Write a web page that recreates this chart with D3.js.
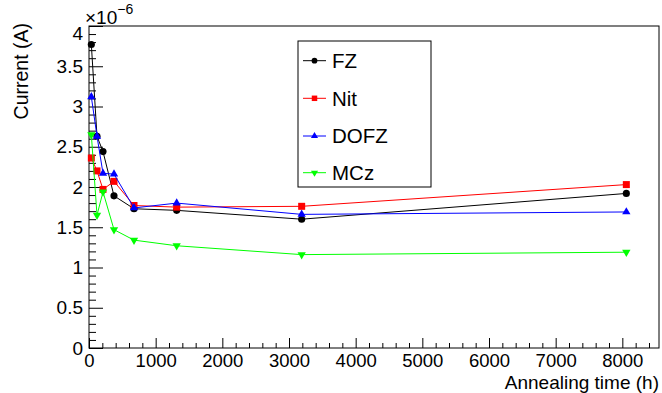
<!DOCTYPE html>
<html>
<head>
<meta charset="utf-8">
<script src="https://cdn.jsdelivr.net/npm/d3@7"></script>
<style>
  html, body { margin: 0; padding: 0; background: #fff; }
  svg { display: block; }
  text { font-family: "Liberation Sans", Arial, Helvetica, sans-serif; }
</style>
</head>
<body>
<svg id="chart" width="662" height="393"></svg>
<script>
// Annealing time (h)
const times = [35, 120, 210, 375, 675, 1315, 3190, 8060];
// Current in units of 1e-6 A
const seriesNames = ["FZ", "Nit", "DOFZ", "MCz"];
const fzValues   = [3.77, 2.63, 2.44, 1.89, 1.73, 1.71, 1.60, 1.92];
const nitValues  = [2.36, 2.20, 1.97, 2.07, 1.77, 1.75, 1.76, 2.03];
const dofzValues = [3.12, 2.63, 2.17, 2.16, 1.74, 1.80, 1.66, 1.69];
const mczValues  = [2.65, 1.65, 1.94, 1.47, 1.34, 1.27, 1.16, 1.19];
const xTickValues = [0, 1000, 2000, 3000, 4000, 5000, 6000, 7000, 8000];
const yTickValues = [0, 0.5, 1, 1.5, 2, 2.5, 3, 3.5, 4];
const xTitle = "Annealing time (h)";
const yTitle = "Current (A)";

const colors = ["#000000", "#ff0000", "#0000ff", "#00ff00"];
const symbols = [d3.symbolCircle, d3.symbolSquare, d3.symbolTriangle, d3.symbolTriangle];
const rotations = [0, 0, 0, 180];
const dataSizes = [40, 49, 30, 30];
const legendSizes = [26, 30, 22, 22];

const allValues = [fzValues, nitValues, dofzValues, mczValues];
const series = seriesNames.map((name, i) => ({
  name, color: colors[i], symbol: symbols[i], rot: rotations[i],
  size: dataSizes[i], lsize: legendSizes[i],
  points: times.map((t, j) => ({ t, v: allValues[i][j] }))
}));

const L = 89, R = 659, T = 26, B = 348;
const fs = 18.5;

const svg = d3.select("#chart");
const x = d3.scaleLinear().domain([0, 8550]).range([L, R]);
const y = d3.scaleLinear().domain([0, 4]).range([B, T]);

// minor ticks
const xMinor = d3.range(0, 8550, 200).filter(v => v % 1000 !== 0);
const yMinor = d3.range(0, 40.5, 1).map(v => v / 10).filter(v => Math.round(v * 10) % 5 !== 0);

svg.append("g").attr("transform", `translate(0,${B})`)
  .call(d3.axisBottom(x).tickValues(xMinor).tickSize(-5).tickFormat(""))
  .call(g => g.select(".domain").remove());
svg.append("g").attr("transform", `translate(${L},0)`)
  .call(d3.axisLeft(y).tickValues(yMinor).tickSize(-7).tickFormat(""))
  .call(g => g.select(".domain").remove());

const gx = svg.append("g").attr("transform", `translate(0,${B})`)
  .call(d3.axisBottom(x).tickValues(xTickValues).tickSize(-10).tickPadding(5.5).tickFormat(d3.format("d")))
  .call(g => g.select(".domain").remove());
gx.selectAll("text").attr("font-size", fs).attr("fill", "#000").attr("font-family", "Liberation Sans, Arial, sans-serif");

const gy = svg.append("g").attr("transform", `translate(${L},0)`)
  .call(d3.axisLeft(y).tickValues(yTickValues).tickSize(-14).tickPadding(6).tickFormat(d => d3.format("")(d)))
  .call(g => g.select(".domain").remove());
gy.selectAll("text").attr("font-size", 19).attr("fill", "#000").attr("font-family", "Liberation Sans, Arial, sans-serif");
gy.selectAll(".tick").filter(d => d === 4).select("text").attr("dy", "0.72em");

svg.selectAll(".tick line").attr("stroke", "#000");

// frame
svg.append("rect").attr("x", L).attr("y", T).attr("width", R - L).attr("height", B - T)
  .attr("fill", "none").attr("stroke", "#000").attr("stroke-width", 1);

// exponent
const ex = svg.append("text").attr("x", 85).attr("y", 24).attr("font-size", 19);
ex.append("tspan").text("×10");
ex.append("tspan").attr("dy", -10).attr("font-size", 14).text("−6");

// titles
svg.append("text").attr("x", R).attr("y", 389).attr("text-anchor", "end")
  .attr("font-size", 19).text(xTitle);
svg.append("text").attr("transform", `translate(28,${T - 3}) rotate(-90)`)
  .attr("text-anchor", "end").attr("font-size", 19.5).text(yTitle);

// lines & markers
const line = d3.line().x(d => x(d.t)).y(d => y(d.v));
series.forEach(s => {
  svg.append("path").datum(s.points).attr("d", line)
    .attr("fill", "none").attr("stroke", s.color).attr("stroke-width", 1);
  svg.append("g").selectAll("path").data(s.points).join("path")
    .attr("d", d3.symbol().type(s.symbol).size(s.size))
    .attr("transform", d => `translate(${x(d.t)},${y(d.v)}) rotate(${s.rot})`)
    .attr("fill", s.color);
});

// legend
const lg = svg.append("g");
lg.append("rect").attr("x", 298).attr("y", 41).attr("width", 133).attr("height", 146)
  .attr("fill", "#fff").attr("stroke", "#000").attr("stroke-width", 1);
const rowY = [60.7, 98.3, 136, 172.7];
series.forEach((s, i) => {
  lg.append("line").attr("x1", 303).attr("x2", 326).attr("y1", rowY[i]).attr("y2", rowY[i])
    .attr("stroke", s.color).attr("stroke-width", 1);
  lg.append("path").attr("d", d3.symbol().type(s.symbol).size(s.lsize))
    .attr("transform", `translate(314.5,${rowY[i]}) rotate(${s.rot})`).attr("fill", s.color);
  lg.append("text").attr("x", 332).attr("y", rowY[i]).attr("dy", "0.36em")
    .attr("font-size", 20.5).text(s.name);
});
</script>
</body>
</html>
